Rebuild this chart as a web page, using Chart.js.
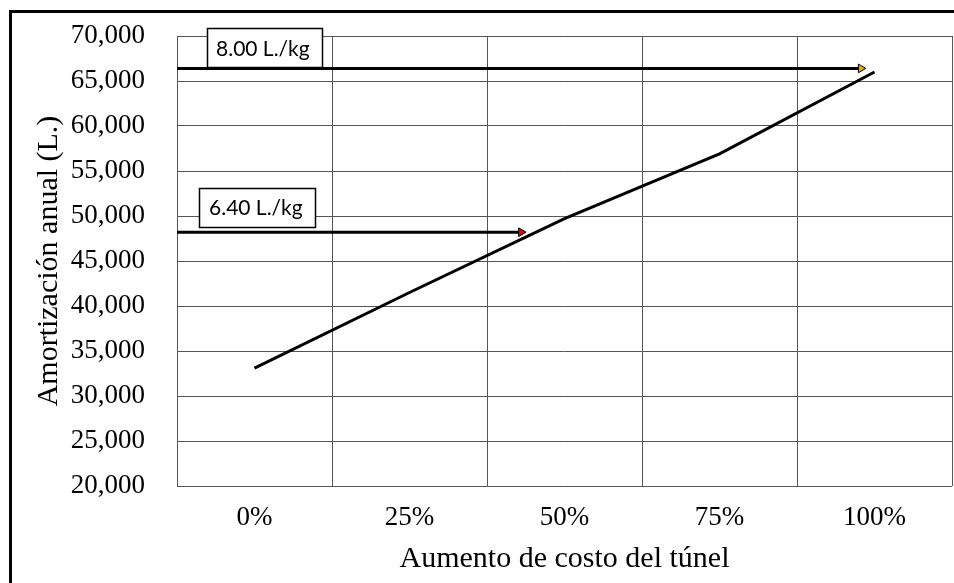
<!DOCTYPE html>
<html>
<head>
<meta charset="utf-8">
<script src="https://cdn.jsdelivr.net/npm/chart.js@4.4.1/dist/chart.umd.min.js"></script>
<style>
  html, body { margin: 0; padding: 0; background: #fff; overflow: hidden; }
  #wrap { position: relative; width: 954px; height: 583px; overflow: hidden; }
  #frame { position: absolute; left: 9px; top: 10px; width: 1200px; height: 1200px;
           border-left: 3px solid #000; border-top: 3px solid #000; box-sizing: border-box; }
  canvas { position: absolute; left: 0; top: 0; }
</style>
</head>
<body>
<div id="wrap">
  <div id="frame"></div>
  <canvas id="c" width="954" height="583"></canvas>
</div>
<script>
// ---- data ----
const xValues = [0, 25, 50, 75, 100];            // tunnel cost increase (%)
const xLabels = ['0%', '25%', '50%', '75%', '100%'];
const amortization = [33100, 41500, 49700, 56900, 66000];  // L. per year
const yTicks = [20000, 25000, 30000, 35000, 40000, 45000, 50000, 55000, 60000, 65000, 70000];

const arrowLabels = ['8.00 L./kg', '6.40 L./kg'];
const arrowLevels = [66400, 48200];   // y value of each arrow
const arrowEnds = [97.8, 43.0];       // x value where each arrow tip sits

const xMin = -12.5, xMax = 112.5;
const gridBounds = xValues.map(v => v - 12.5).concat([xMax]);

const serif = "'Liberation Serif', 'Times New Roman', serif";

const boxPlugin = {
  id: 'arrowBoxes',
  afterDatasetsDraw(chart, args, opts) {
    const {ctx, chartArea, scales} = chart;
    ctx.save();
    arrowLabels.forEach((txt, i) => {
      const yPix = scales.y.getPixelForValue(arrowLevels[i]);
      const b = opts.boxes[i];
      const left = chartArea.left + b.dx;
      const bottom = yPix - b.gap;
      const top = bottom - opts.height;
      ctx.fillStyle = '#fff';
      ctx.fillRect(left, top, b.w, opts.height);
      ctx.strokeStyle = '#000';
      ctx.lineWidth = 1.5;
      ctx.strokeRect(Math.round(left) + 0.5, Math.round(top) + 0.5, b.w, opts.height);
      ctx.fillStyle = '#000';
      ctx.font = "21px Lato, 'Noto Sans', sans-serif";
      ctx.textBaseline = 'middle';
      ctx.textAlign = 'left';
      ctx.fillText(txt, left + b.pad, top + opts.height / 2 + 1);
    });
    ctx.restore();
  }
};

const arrowDatasets = arrowLabels.map((lab, i) => ({
  label: lab,
  data: [{x: xMin, y: arrowLevels[i]}, {x: arrowEnds[i], y: arrowLevels[i]}],
  borderColor: '#000',
  borderWidth: 3,
  pointRadius: [0, 5],
  pointStyle: 'triangle',
  rotation: 90,
  pointBackgroundColor: i === 0 ? '#E6A800' : '#D01010',
  pointBorderColor: '#000',
  pointBorderWidth: 1,
  xAxisID: 'x',
  order: 1
}));

new Chart(document.getElementById('c'), {
  type: 'line',
  data: {
    datasets: [
      {
        label: 'Amortización anual',
        data: xValues.map((x, i) => ({x, y: amortization[i]})),
        borderColor: '#000',
        borderWidth: 3,
        pointRadius: 0,
        tension: 0,
        xAxisID: 'x',
        order: 0
      },
      ...arrowDatasets
    ]
  },
  options: {
    responsive: false,
    animation: false,
    devicePixelRatio: 1,
    layout: { autoPadding: false, padding: { left: 0, right: 2, top: 36, bottom: 0 } },
    plugins: {
      legend: { display: false },
      tooltip: { enabled: false },
      arrowBoxes: {
        height: 39,
        boxes: [ { dx: 30, gap: 1, w: 115, pad: 9 }, { dx: 22, gap: 5, w: 116, pad: 10 } ]
      }
    },
    scales: {
      x: {
        type: 'linear',
        position: 'bottom',
        min: xMin, max: xMax,
        afterBuildTicks: s => { s.ticks = xValues.map(v => ({value: v})); },
        afterFit: s => { s.height = 97; s.paddingLeft = 0; s.paddingRight = 0; },
        grid: { display: false, drawTicks: false },
        border: { display: false },
        ticks: {
          autoSkip: false, maxRotation: 0, padding: 16, color: '#000',
          font: { family: serif, size: 27 },
          callback: (v) => { const k = xValues.indexOf(v); return k >= 0 ? xLabels[k] : ''; }
        },
        title: {
          display: true, text: 'Aumento de costo del túnel', color: '#000',
          font: { family: serif, size: 30 }, padding: { top: 0, bottom: 6 }
        }
      },
      x2: {
        type: 'linear',
        position: 'top',
        min: xMin, max: xMax,
        afterBuildTicks: s => { s.ticks = gridBounds.map(v => ({value: v})); },
        afterFit: s => { s.height = 0; s.paddingLeft = 0; s.paddingRight = 0; },
        grid: { display: true, drawTicks: false, color: '#555', lineWidth: 1 },
        border: { display: false },
        ticks: { display: false }
      },
      y: {
        type: 'linear',
        min: 20000, max: 70000,
        afterBuildTicks: s => { s.ticks = yTicks.map(v => ({value: v})); },
        afterFit: s => { s.width = 177; s.paddingTop = 0; s.paddingBottom = 0; },
        grid: { display: true, drawTicks: false, color: '#555', lineWidth: 1 },
        border: { display: false },
        ticks: {
          padding: 32, color: '#000',
          font: { family: serif, size: 27 },
          callback: v => v.toLocaleString('en-US')
        },
        title: {
          display: true, text: 'Amortización anual (L.)', color: '#000',
          font: { family: serif, size: 30 }, padding: { top: 31, bottom: 0 }
        }
      }
    }
  },
  plugins: [boxPlugin]
});
</script>
</body>
</html>
